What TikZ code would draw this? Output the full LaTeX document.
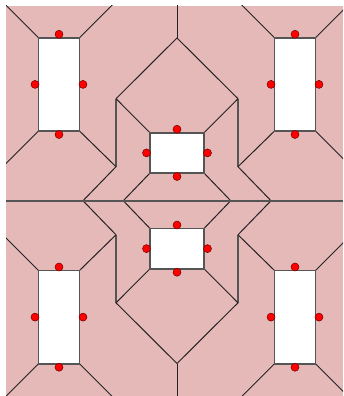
\documentclass[tikz,border=0pt]{standalone}
\usetikzlibrary{calc}
\definecolor{floorpink}{RGB}{229,185,184}
\definecolor{wallgray}{RGB}{35,35,35}
\definecolor{roomedge}{RGB}{85,85,85}
\definecolor{doorred}{RGB}{255,0,0}
\definecolor{doorrim}{RGB}{110,0,0}
\begin{document}
\begin{tikzpicture}[x=1pt,y=-1pt,
  wall/.style={draw=wallgray,line width=1pt},
  seam/.style={draw=roomedge,line width=1.6pt},
  room/.style={draw=roomedge,fill=white,line width=1.6pt},
  door/.style={circle,fill=doorred,draw=doorrim,line width=0.5pt,
               minimum size=8pt,inner sep=0pt}]
\useasboundingbox (0,0) rectangle (343,396);
\fill[floorpink] (6,6) rectangle (343,396);

% corners of the six rooms
\coordinate (a1) at (38.5,37.75);  \coordinate (a2) at (79.5,37.75);
\coordinate (a3) at (38.5,131);    \coordinate (a4) at (79.5,131);
\coordinate (b1) at (274.5,37.75); \coordinate (b2) at (315.5,37.75);
\coordinate (b3) at (274.5,131);   \coordinate (b4) at (315.5,131);
\coordinate (c1) at (38.5,270.5);  \coordinate (c2) at (79.5,270.5);
\coordinate (c3) at (38.5,363.75); \coordinate (c4) at (79.5,363.75);
\coordinate (d1) at (274.5,270.5); \coordinate (d2) at (315.5,270.5);
\coordinate (d3) at (274.5,363.75);\coordinate (d4) at (315.5,363.75);
\coordinate (m1) at (150,132.75);  \coordinate (m2) at (204,132.75);
\coordinate (m3) at (150,173);     \coordinate (m4) at (204,173);
\coordinate (n1) at (150,228.5);   \coordinate (n2) at (204,228.5);
\coordinate (n3) at (150,268.75);  \coordinate (n4) at (204,268.75);

% skeleton vertices
\coordinate (A)   at (177,38);    \coordinate (A2)  at (177,363.5);
\coordinate (Atop) at (177,0);    \coordinate (Abot) at (177,400);
\coordinate (P)   at (116,98.7);  \coordinate (Pr)  at (238,98.7);
\coordinate (Q)   at (116,166.7); \coordinate (Qr)  at (238,166.7);
\coordinate (P2)  at (116,302.8); \coordinate (Pr2) at (238,302.8);
\coordinate (Q2)  at (116,234.8); \coordinate (Qr2) at (238,234.8);
\coordinate (H1)  at (83,200.75); \coordinate (H2)  at (123.3,200.75);
\coordinate (H3)  at (230.7,200.75); \coordinate (H4) at (271,200.75);
\coordinate (L)   at (6,200.75);  \coordinate (R)   at (343,200.75);

\begin{scope}
  \clip (6,6) rectangle (343,396);
  % upper half
  \draw[wall] (Atop) -- (A);
  \draw[wall] (H1) -- (Q);  \draw[wall] (P) -- (A) -- (Pr);
  \draw[wall] (Qr) -- (H4);
  \draw[seam] (P) -- (Q);   \draw[seam] (Pr) -- (Qr);
  \draw[wall] (P) -- (m1);  \draw[wall] (Pr) -- (m2);
  \draw[wall] (m3) -- (H2); \draw[wall] (m4) -- (H3);
  \draw[wall] (a4) -- (Q);  \draw[wall] (b3) -- (Qr);
  \draw[wall] (a1) -- ($(a1)+(-40,-40)$);
  \draw[wall] (a2) -- ($(a2)+(40,-40)$);
  \draw[wall] (a3) -- ($(a3)+(-40,40)$);
  \draw[wall] (b1) -- ($(b1)+(-40,-40)$);
  \draw[wall] (b2) -- ($(b2)+(40,-40)$);
  \draw[wall] (b4) -- ($(b4)+(40,40)$);
  % lower half
  \draw[wall] (A2) -- (Abot);
  \draw[wall] (H1) -- (Q2); \draw[wall] (P2) -- (A2) -- (Pr2);
  \draw[wall] (Qr2) -- (H4);
  \draw[seam] (P2) -- (Q2);  \draw[seam] (Pr2) -- (Qr2);
  \draw[wall] (P2) -- (n3);  \draw[wall] (Pr2) -- (n4);
  \draw[wall] (n1) -- (H2);  \draw[wall] (n2) -- (H3);
  \draw[wall] (c2) -- (Q2);  \draw[wall] (d1) -- (Qr2);
  \draw[wall] (c1) -- ($(c1)+(-40,-40)$);
  \draw[wall] (c3) -- ($(c3)+(-40,40)$);
  \draw[wall] (c4) -- ($(c4)+(40,40)$);
  \draw[wall] (d2) -- ($(d2)+(40,-40)$);
  \draw[wall] (d3) -- ($(d3)+(-40,40)$);
  \draw[wall] (d4) -- ($(d4)+(40,40)$);
  % middle seam
  \draw[seam] (L) -- (R);
\end{scope}

% rooms
\draw[room] (a1) rectangle (a4);
\draw[room] (b1) rectangle (b4);
\draw[room] (c1) rectangle (c4);
\draw[room] (d1) rectangle (d4);
\draw[room] (m1) rectangle (m4);
\draw[room] (n1) rectangle (n4);

% doors
\node[door] (aT) at (59,34.25) {};   \node[door] (aB) at (59,134.5) {};
\node[door] (aL) at (35,84.4) {};    \node[door] (aR) at (83,84.4) {};
\node[door] (bT) at (295,34.25) {};  \node[door] (bB) at (295,134.5) {};
\node[door] (bL) at (271,84.4) {};   \node[door] (bR) at (319,84.4) {};
\node[door] (cT) at (59,267) {};     \node[door] (cB) at (59,367.25) {};
\node[door] (cL) at (35,317.1) {};   \node[door] (cR) at (83,317.1) {};
\node[door] (dT) at (295,267) {};    \node[door] (dB) at (295,367.25) {};
\node[door] (dL) at (271,317.1) {};  \node[door] (dR) at (319,317.1) {};
\node[door] (mT) at (177,129.25) {}; \node[door] (mB) at (177,176.5) {};
\node[door] (mL) at (146.5,152.9) {};\node[door] (mR) at (207.5,152.9) {};
\node[door] (nT) at (177,225) {};    \node[door] (nB) at (177,272.25) {};
\node[door] (nL) at (146.5,248.6) {};\node[door] (nR) at (207.5,248.6) {};
\end{tikzpicture}
\end{document}
